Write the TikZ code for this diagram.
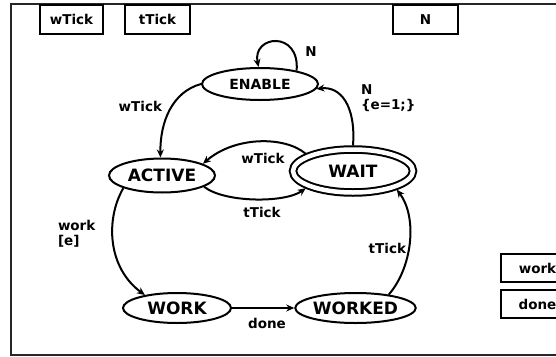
\documentclass[tikz,border=0pt]{standalone}
\usepackage{fontspec}
\setmainfont{DejaVu Sans}
\usetikzlibrary{arrows.meta,shapes.geometric}
\begin{document}
\begin{tikzpicture}[x=1pt,y=-1pt,line width=2pt,
state/.style={ellipse, draw, inner sep=0pt, font=\bfseries\fontsize{17}{17}\selectfont},
sig/.style={rectangle, draw, inner sep=0pt, minimum height=29pt, font=\bfseries\fontsize{13.5}{14}\selectfont},
lab/.style={inner sep=0pt, align=left, font=\bfseries\fontsize{13.5}{15.5}\selectfont},
tr/.style={-{Stealth[length=8pt,width=7pt]}}]
\useasboundingbox (0,0) rectangle (556,356);
\clip (0,0) rectangle (556,356);
\draw[black!85, line width=1.6pt] (11,4) rectangle (620,355);
\node[sig, minimum width=63pt, anchor=north] (sid0) at (71.5,4){wTick};
\node[sig, minimum width=65pt, anchor=north] (sid1) at (157.5,4){tTick};
\node[sig, minimum width=65pt, anchor=north] (sid2) at (425.5,4){N};
\node[sig, minimum width=73pt, minimum height=28pt] (sid3) at (537.5,268){work};
\node[sig, minimum width=73pt, minimum height=28pt] (sid4) at (537.5,304){done};
\node[state, minimum width=116pt, minimum height=32pt, font=\bfseries\fontsize{14}{14}\selectfont] (enable) at (260,84){ENABLE};
\node[state, minimum width=106pt, minimum height=34pt] (active) at (162,175.5){ACTIVE};
\node[state, double, double distance=4.5pt, outer sep=4pt, minimum width=120pt, minimum height=43pt] (wait) at (353,171){WAIT};
\node[state, minimum width=108pt, minimum height=30pt] (work) at (177,308){WORK};
\node[state, minimum width=106pt, minimum height=30pt] (worked) at (355.5,308){WORKED};
\draw[tr](enable.20) .. controls (300,30) and (252,35) .. (enable.95);
\node[lab] (lab0) at (311,52){N};
\draw[tr](enable.west) .. controls (172,92) and (160,122) .. (active.95);
\node[lab, anchor=east] (lab1) at (163,106){wTick};
\draw[tr](wait.90) .. controls (356,105) and (340,86) .. (enable.-5);
\node[lab, anchor=west] (lab2) at (360,98){N\\\{e=1;\}};
\draw[tr](wait.160) .. controls (285,136) and (235,136) .. (active.16);
\node[lab] (lab3) at (263,158){wTick};
\draw[tr](active.-15) .. controls (225,203) and (285,203) .. (wait.-160);
\node[lab] (lab4) at (262,212){tTick};
\draw[tr](active.-162) .. controls (105,220) and (108,268) .. (work.158);
\node[lab, anchor=west] (lab5) at (57,234){work\\{[e]}};
\draw[tr](work) -- (worked);
\node[lab] (lab6) at (267,323){done};
\draw[tr](worked.22) .. controls (412,268) and (418,218) .. (wait.-23);
\node[lab, anchor=east] (lab7) at (407,248){tTick};
\end{tikzpicture}
\end{document}
